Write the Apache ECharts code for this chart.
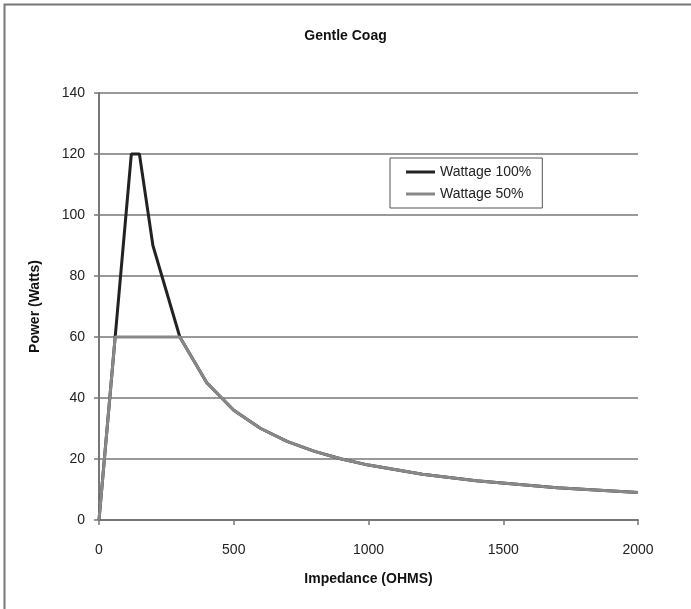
<!DOCTYPE html>
<html>
<head>
<meta charset="utf-8">
<script src="https://cdn.jsdelivr.net/npm/echarts@6/dist/echarts.min.js"></script>
<style>
  html, body { margin: 0; padding: 0; background: #fff; }
  #chart { width: 691px; height: 609px; }
</style>
</head>
<body>
<div id="chart"></div>
<script>
// impedance (ohms) and power (watts)
var ohms100 = [0, 120, 150, 200, 300, 400, 500, 600, 700, 800, 900, 1000, 1200, 1400, 1700, 2000];
var watts100 = [0, 120, 120, 90, 60, 45, 36, 30, 25.7, 22.5, 20, 18, 15, 12.9, 10.6, 9];
var ohms50 = [0, 60, 300, 400, 500, 600, 700, 800, 900, 1000, 1200, 1400, 1700, 2000];
var watts50 = [0, 60, 60, 45, 36, 30, 25.7, 22.5, 20, 18, 15, 12.9, 10.6, 9];

function pairs(xs, ys) {
    return xs.map(function (x, i) { return [x, ys[i]]; });
}

var myChart = echarts.init(document.getElementById('chart'));

var font = 'Liberation Sans, Arial, sans-serif';

var option = {
    backgroundColor: '#fff',
    animation: false,
    title: {
        text: 'Gentle Coag',
        left: 'center',
        top: 24,
        textStyle: { fontFamily: font, fontSize: 14, fontWeight: 'bold', color: '#111' }
    },
    graphic: [{
        type: 'rect',
        shape: { x: 4.5, y: 4.5, width: 700, height: 700 },
        style: { fill: 'none', stroke: '#777', lineWidth: 2 },
        silent: true
    }],
    legend: {
        left: 390,
        top: 158,
        orient: 'vertical',
        itemWidth: 29,
        itemHeight: 3,
        itemGap: 8,
        padding: [7, 11, 7, 16],
        borderColor: '#555',
        borderWidth: 1,
        icon: 'rect',
        textStyle: { fontFamily: font, fontSize: 14, color: '#222' },
        data: ['Wattage 100%', 'Wattage 50%']
    },
    grid: { left: 99, right: 53, top: 93, bottom: 89 },
    xAxis: {
        type: 'value',
        min: 0,
        max: 2000,
        interval: 500,
        name: 'Impedance (OHMS)',
        nameLocation: 'middle',
        nameGap: 52,
        nameTextStyle: { fontFamily: font, fontSize: 14, fontWeight: 'bold', color: '#111' },
        axisLine: { lineStyle: { color: '#777', width: 2 } },
        axisTick: { show: true, length: 5, lineStyle: { color: '#777', width: 1.5 } },
        axisLabel: {
            fontFamily: font, fontSize: 14, color: '#222', margin: 23,
            formatter: function (v) { return String(v); }
        },
        splitLine: { show: false }
    },
    yAxis: {
        type: 'value',
        min: 0,
        max: 140,
        interval: 20,
        name: 'Power (Watts)',
        nameLocation: 'middle',
        nameGap: 57,
        nameRotate: 90,
        nameTextStyle: { fontFamily: font, fontSize: 14, fontWeight: 'bold', color: '#111' },
        axisLine: { show: true, lineStyle: { color: '#777', width: 2 } },
        axisTick: { show: true, length: 5, lineStyle: { color: '#777', width: 1.5 } },
        axisLabel: { fontFamily: font, fontSize: 14, color: '#222', margin: 14 },
        splitLine: { show: true, lineStyle: { color: '#777', width: 1.5 } }
    },
    series: [
        {
            name: 'Wattage 100%',
            type: 'line',
            data: pairs(ohms100, watts100),
            showSymbol: false,
            color: '#222',
            lineStyle: { color: '#222', width: 3 },
            z: 2
        },
        {
            name: 'Wattage 50%',
            type: 'line',
            data: pairs(ohms50, watts50),
            showSymbol: false,
            color: '#888',
            lineStyle: { color: '#888', width: 3 },
            z: 3
        }
    ]
};

myChart.setOption(option);
</script>
</body>
</html>
